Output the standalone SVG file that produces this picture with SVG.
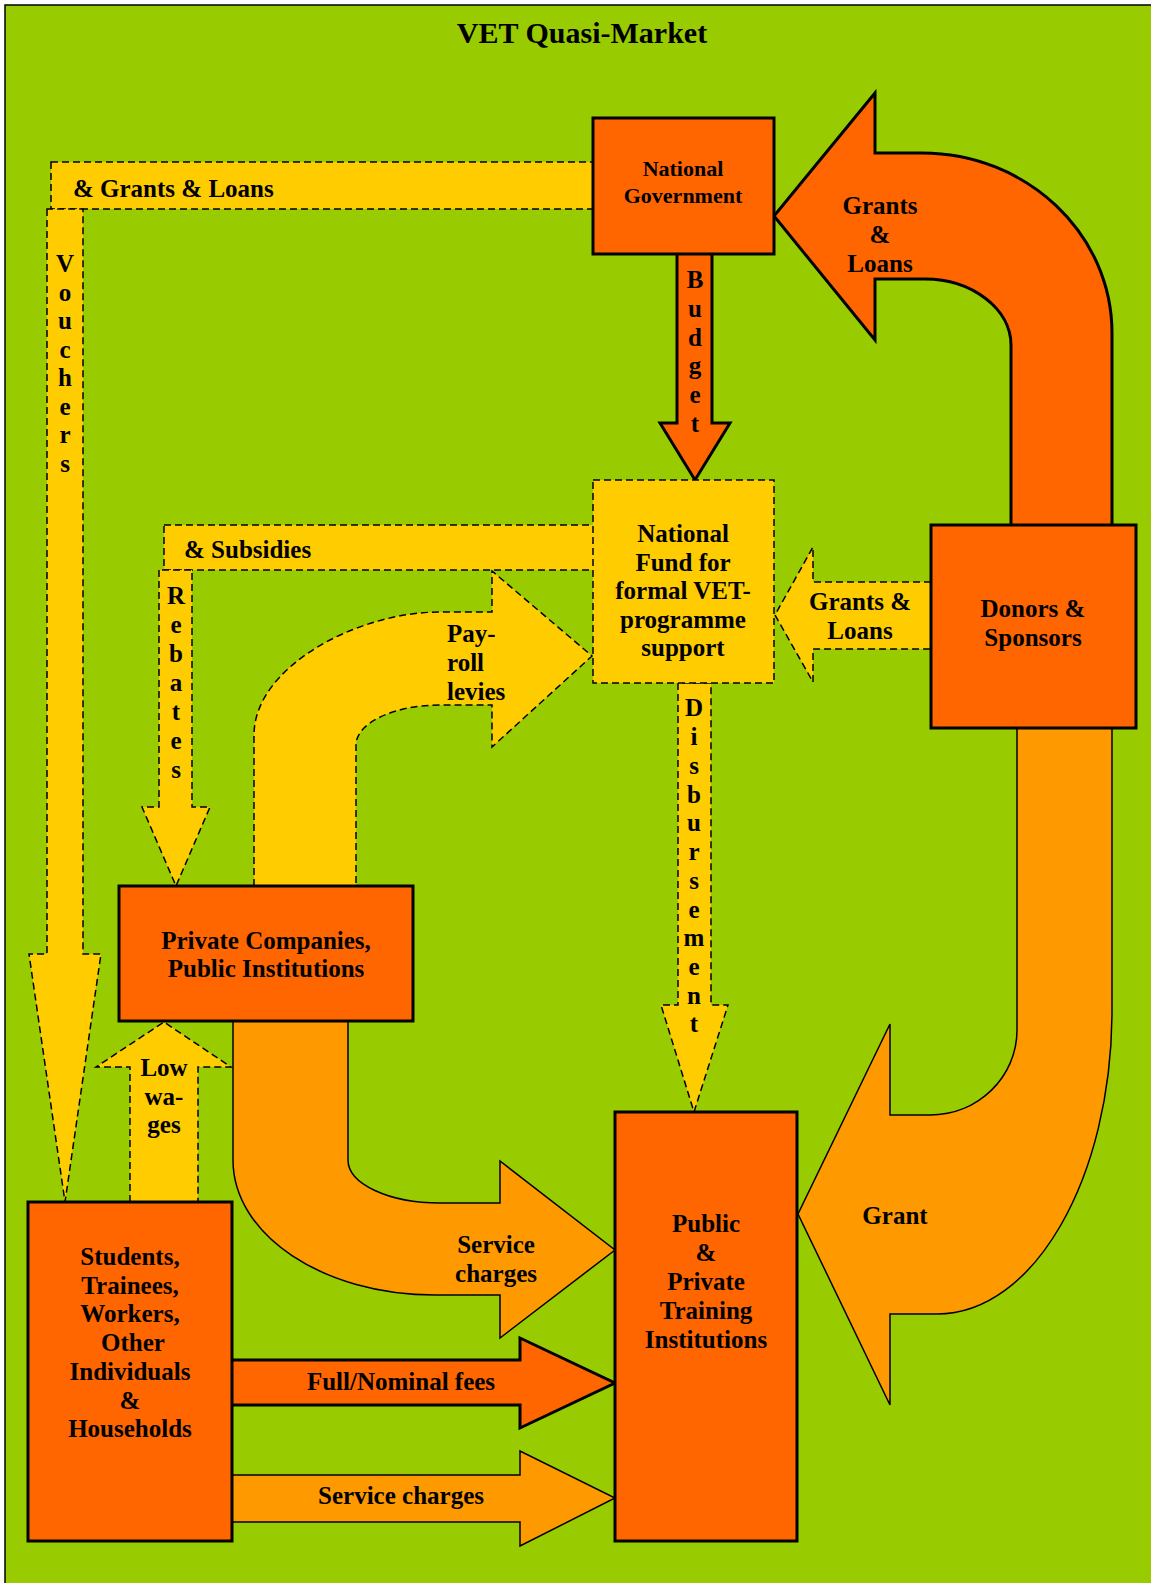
<svg xmlns="http://www.w3.org/2000/svg" width="1151" height="1583" viewBox="0 0 1151 1583">
  <style>
    text { font-family: "Liberation Serif", "Times New Roman", serif; font-weight: bold; fill: #000; }
    .t25 { font-size: 25px; }
    .t22 { font-size: 22px; }
    .mid { text-anchor: middle; }
    .box { fill: #FF6600; stroke: #000; stroke-width: 3; }
    .fund { fill: #FFCC00; stroke: #000; stroke-width: 1.5; stroke-dasharray: 7 4; }
    .dash { fill: #FFCC00; stroke: #000; stroke-width: 1.5; stroke-dasharray: 7 4; stroke-linejoin: miter; }
    .solid { fill: #FF6600; stroke: #000; stroke-width: 3; stroke-linejoin: miter; }
    .light { fill: #FF9900; stroke: #000; stroke-width: 1.5; stroke-linejoin: miter; }
  </style>

  <!-- background panel -->
  <rect x="5" y="5" width="1150" height="1582" fill="#99CC00" stroke="#000" stroke-width="1.5"/>
  <text class="mid" x="582" y="43" style="font-size:30px">VET Quasi-Market</text>

  <g id="connectors">
    <!-- government grants & loans / vouchers to individuals -->
    <rect class="dash" x="51" y="162" width="545" height="47"/>
    <path class="dash" d="M47,209 L47,954 L29,954 L65,1202 L101,954 L83,954 L83,209 Z"/>
    <text class="t25" x="73" y="197">&amp; Grants &amp; Loans</text>
    <text class="t25 mid">
      <tspan x="65" y="272">V</tspan><tspan x="65" y="300.5">o</tspan><tspan x="65" y="329">u</tspan><tspan x="65" y="357.5">c</tspan><tspan x="65" y="386">h</tspan><tspan x="65" y="414.5">e</tspan><tspan x="65" y="443">r</tspan><tspan x="65" y="471.5">s</tspan>
    </text>

    <!-- budget -->
    <path class="solid" d="M677,250 L677,423 L660,423 L695,480 L730,423 L712,423 L712,250 Z"/>
    <text class="t25 mid">
      <tspan x="695" y="288">B</tspan><tspan x="695" y="317">u</tspan><tspan x="695" y="346">d</tspan><tspan x="695" y="374">g</tspan><tspan x="695" y="403">e</tspan><tspan x="695" y="432">t</tspan>
    </text>

    <!-- donor grants & loans to government -->
    <path class="solid" d="M1112,540 L1112,333 C1112,234 1027,153 922,153 L875,153 L875,93 L774,216 L875,340 L875,279 L925,279 C972,279 1011,309 1011,345 L1011,540 Z"/>
    <text class="t25 mid"><tspan x="880" y="214">Grants</tspan><tspan x="880" y="243">&amp;</tspan><tspan x="880" y="272">Loans</tspan></text>

    <!-- subsidies / rebates to companies -->
    <rect class="dash" x="164" y="525" width="432" height="45"/>
    <path class="dash" d="M159,570 L159,807 L142,807 L176,886 L210,807 L192,807 L192,570 Z"/>
    <text class="t25" x="184" y="558">&amp; Subsidies</text>
    <text class="t25 mid">
      <tspan x="176" y="604">R</tspan><tspan x="176" y="633">e</tspan><tspan x="176" y="662">b</tspan><tspan x="176" y="691">a</tspan><tspan x="176" y="720">t</tspan><tspan x="176" y="749">e</tspan><tspan x="176" y="778">s</tspan>
    </text>

    <!-- payroll levies -->
    <path class="dash" d="M254,886 L254,735 C254,667 357,612 440,612 L492,612 L492,571 L592,656 L492,747 L492,705 L440,705 C394,705 356,723 356,745 L356,886 Z"/>
    <text class="t25"><tspan x="447" y="642">Pay-</tspan><tspan x="447" y="671">roll</tspan><tspan x="447" y="700">levies</tspan></text>

    <!-- donor grants & loans to fund -->
    <path class="dash" d="M931,582 L813,582 L813,547 L775,615 L813,682 L813,649 L931,649 Z"/>
    <text class="t25 mid"><tspan x="860" y="610">Grants &amp;</tspan><tspan x="860" y="639">Loans</tspan></text>

    <!-- disbursement -->
    <path class="dash" d="M678,683 L678,1005 L661,1005 L694,1112 L728,1005 L711,1005 L711,683 Z"/>
    <text class="t25 mid">
      <tspan x="694" y="716">D</tspan><tspan x="694" y="745">i</tspan><tspan x="694" y="774">s</tspan><tspan x="694" y="802.5">b</tspan><tspan x="694" y="831">u</tspan><tspan x="694" y="860">r</tspan><tspan x="694" y="889">s</tspan><tspan x="694" y="917.5">e</tspan><tspan x="694" y="946">m</tspan><tspan x="694" y="975">e</tspan><tspan x="694" y="1003.5">n</tspan><tspan x="694" y="1032">t</tspan>
    </text>

    <!-- donor grant to training institutions -->
    <path class="light" d="M1017,720 L1017,1030 C1017,1077 978,1115 930,1115 L890,1115 L890,1024 L798,1214 L890,1405 L890,1314 L937,1314 C1034,1314 1112,1178 1112,1010 L1112,720 Z"/>
    <text class="t25 mid" x="895" y="1224">Grant</text>

    <!-- service charges from companies -->
    <path class="light" d="M233,1015 L233,1160 C233,1235 323,1295 435,1295 L500,1295 L500,1338 L615,1250 L500,1161 L500,1203 L440,1203 C389,1203 348,1184 348,1160 L348,1015 Z"/>
    <text class="t25 mid"><tspan x="496" y="1253">Service</tspan><tspan x="496" y="1282">charges</tspan></text>

    <!-- low wages -->
    <path class="dash" d="M130,1202 L130,1067 L96,1067 L164,1022 L231,1067 L198,1067 L198,1202 Z"/>
    <text class="t25 mid"><tspan x="164" y="1076">Low</tspan><tspan x="164" y="1104.5">wa-</tspan><tspan x="164" y="1133">ges</tspan></text>

    <!-- fees -->
    <path class="solid" d="M230,1360 L520,1360 L520,1338 L615,1383 L520,1428 L520,1405 L230,1405 Z"/>
    <text class="t25 mid" x="401" y="1390">Full/Nominal fees</text>

    <!-- service charges from individuals -->
    <path class="light" d="M230,1475 L520,1475 L520,1451 L615,1498 L520,1546 L520,1522 L230,1522 Z"/>
    <text class="t25 mid" x="401" y="1504">Service charges</text>
  </g>

  <g id="national-government">
    <rect class="box" x="593" y="118" width="181" height="136"/>
    <text class="t22 mid"><tspan x="683" y="176">National</tspan><tspan x="683" y="203">Government</tspan></text>
  </g>

  <g id="national-fund">
    <rect class="fund" x="593" y="480" width="181" height="203"/>
    <text class="t25 mid"><tspan x="683" y="542">National</tspan><tspan x="683" y="570.5">Fund for</tspan><tspan x="683" y="599">formal VET-</tspan><tspan x="683" y="627.5">programme</tspan><tspan x="683" y="656">support</tspan></text>
  </g>

  <g id="donors">
    <rect class="box" x="931" y="525" width="205" height="203"/>
    <text class="t25 mid"><tspan x="1033" y="617">Donors &amp;</tspan><tspan x="1033" y="646">Sponsors</tspan></text>
  </g>

  <g id="companies">
    <rect class="box" x="119" y="886" width="294" height="135"/>
    <text class="t25 mid"><tspan x="266" y="949">Private Companies,</tspan><tspan x="266" y="977">Public Institutions</tspan></text>
  </g>

  <g id="individuals">
    <rect class="box" x="28" y="1202" width="204" height="339"/>
    <text class="t25 mid"><tspan x="130" y="1265">Students,</tspan><tspan x="130" y="1293.7">Trainees,</tspan><tspan x="130" y="1322.4">Workers,</tspan><tspan x="133" y="1351">Other</tspan><tspan x="130" y="1379.8">Individuals</tspan><tspan x="130" y="1408.5">&amp;</tspan><tspan x="130" y="1437.2">Households</tspan></text>
  </g>

  <g id="training-institutions">
    <rect class="box" x="615" y="1112" width="182" height="429"/>
    <text class="t25 mid"><tspan x="706" y="1232">Public</tspan><tspan x="706" y="1261">&amp;</tspan><tspan x="706" y="1290">Private</tspan><tspan x="706" y="1319">Training</tspan><tspan x="706" y="1348">Institutions</tspan></text>
  </g>
</svg>
